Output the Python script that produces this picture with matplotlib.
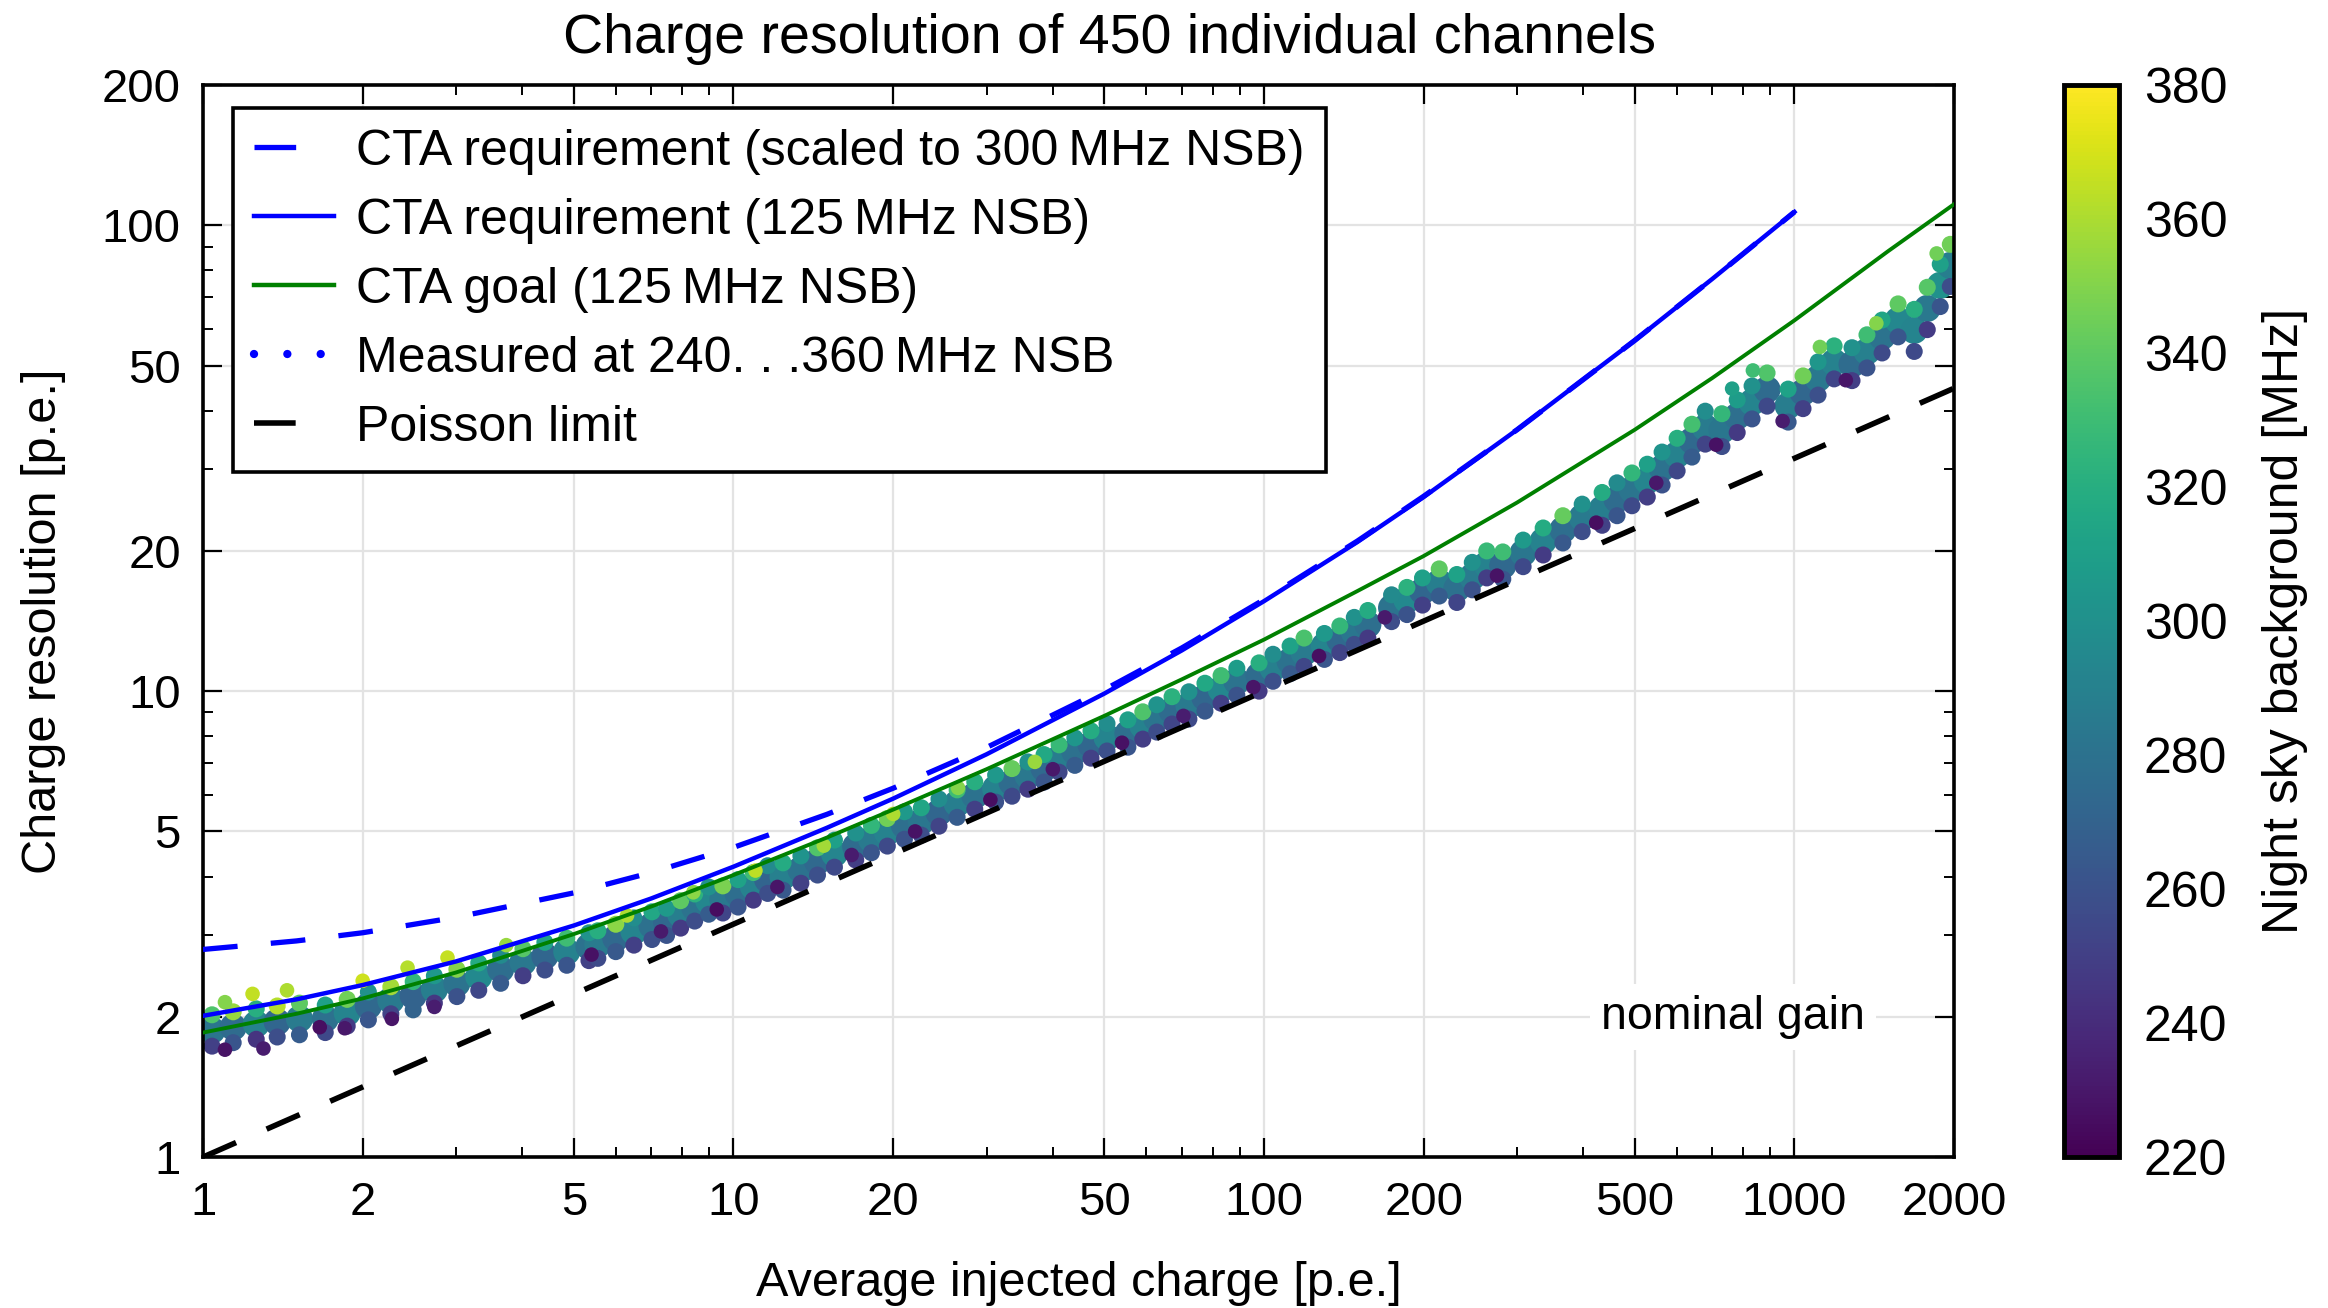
import matplotlib
matplotlib.use("Agg")
import matplotlib.pyplot as plt
from matplotlib.lines import Line2D
from matplotlib.colors import Normalize
from matplotlib.cm import ScalarMappable
from matplotlib.ticker import NullFormatter

plt.rcParams['font.family'] = ['Liberation Sans', 'DejaVu Sans']
plt.rcParams['lines.scale_dashes'] = False

# CTA curves
curve_q = [1, 1.5, 2, 3, 5, 7, 10, 15, 20, 30, 50, 70, 100, 150, 200, 300, 500, 700, 1000]
req_scaled = [2.79, 2.91, 3.03, 3.27, 3.69, 4.08, 4.62, 5.44, 6.19, 7.57, 10.07, 12.38,
              15.72, 21.0, 26.2, 36.4, 56.6, 76.7, 106.8]
req_125 = [2.01, 2.18, 2.34, 2.63, 3.14, 3.59, 4.20, 5.09, 5.88, 7.32, 9.88, 12.23,
           15.6, 20.9, 26.1, 36.4, 56.6, 76.7, 106.8]
goal_q = [1, 1.5, 2, 3, 5, 7, 10, 15, 20, 30, 50, 70, 100, 150, 200, 300, 500, 700, 1000, 1500, 2000]
goal_125 = [1.85, 2.03, 2.19, 2.49, 3.01, 3.45, 4.03, 4.85, 5.57, 6.80, 8.85, 10.6, 12.9,
            16.4, 19.5, 25.4, 36.4, 47.0, 62.5, 87.9, 111]
poisson_q = [1, 2000]
poisson_r = [1, 44.7]

# measured channels: charge positions across each cluster, with the low / middle / high edge of the band
meas_q = [1.04, 1.14, 1.26, 1.38, 1.52,
          1.70, 1.87, 2.05, 2.26, 2.49, 2.73, 3.01, 3.31, 3.64, 4.01, 4.41, 4.85, 5.34,
          5.55, 6.00, 6.49, 7.02,
          7.48, 7.95, 8.45, 8.98,
          9.55, 10.2, 10.9, 11.6,
          12.4, 13.4, 14.4, 15.5,
          17.0, 18.2, 19.5, 21.0,
          22.6, 24.4, 26.4, 28.5,
          31.2, 33.5, 35.9, 38.5,
          41.1, 44.0, 47.2, 50.6,
          55.4, 59.1, 62.8, 67.1,
          72.2, 77.4, 83.0, 88.9,
          97.9, 104, 112, 119,
          130, 139, 148, 157,
          174, 186, 199, 214,
          231, 247, 263,
          282, 308, 336, 366, 398,
          434, 463, 494, 528,
          563, 601, 641, 679,
          730, 780, 832, 888,
          973, 1038, 1108, 1188,
          1284, 1370, 1463, 1568,
          1682, 1780, 1883, 1967]
meas_mid = [1.87, 1.90, 1.93, 1.95, 1.98,
            1.98, 2.04, 2.11, 2.17, 2.22, 2.29, 2.36, 2.44, 2.53, 2.62, 2.70, 2.76, 2.83,
            2.86, 2.95, 3.05, 3.14,
            3.20, 3.32, 3.43, 3.55,
            3.57, 3.68, 3.81, 3.94,
            4.00, 4.14, 4.31, 4.48,
            4.64, 4.81, 4.98, 5.15,
            5.25, 5.49, 5.74, 5.97,
            6.18, 6.37, 6.59, 6.83,
            7.17, 7.42, 7.68, 7.96,
            8.11, 8.44, 8.74, 9.09,
            9.32, 9.69, 10.1, 10.5,
            10.8, 11.2, 11.6, 12.1,
            12.5, 12.9, 13.4, 13.9,
            15.1, 15.7, 16.4, 17.1,
            16.6, 17.6, 18.7,
            18.6, 19.8, 21.0, 22.2, 23.6,
            24.6, 25.8, 27.1, 28.3,
            30.1, 32.2, 34.5, 36.8,
            36.3, 38.9, 41.7, 44.4,
            41.0, 43.8, 46.9, 50.8,
            50.3, 53.6, 57.7, 62.5,
            59.5, 66.3, 74.3, 82.0]
meas_hi = [2.02, 2.05, 2.08, 2.11, 2.14,
           2.12, 2.18, 2.26, 2.32, 2.38, 2.45, 2.53, 2.61, 2.71, 2.80, 2.89, 2.95, 3.03,
           3.06, 3.16, 3.26, 3.36,
           3.42, 3.55, 3.67, 3.80,
           3.82, 3.94, 4.08, 4.22,
           4.28, 4.43, 4.61, 4.79,
           4.96, 5.15, 5.33, 5.51,
           5.62, 5.87, 6.14, 6.39,
           6.61, 6.82, 7.05, 7.31,
           7.67, 7.94, 8.22, 8.52,
           8.68, 9.03, 9.35, 9.73,
           9.97, 10.4, 10.8, 11.2,
           11.5, 12.0, 12.5, 13.0,
           13.3, 13.8, 14.4, 14.9,
           16.1, 16.7, 17.5, 18.3,
           17.8, 18.9, 20.0,
           19.9, 21.1, 22.4, 23.8, 25.2,
           26.7, 28.0, 29.4, 30.7,
           32.6, 34.9, 37.4, 39.9,
           39.4, 42.2, 45.2, 48.2,
           44.5, 47.5, 50.9, 55.1,
           54.6, 58.2, 62.6, 67.8,
           66.0, 73.6, 82.5, 91.0]
meas_lo = [1.73, 1.76, 1.79, 1.81, 1.83,
           1.85, 1.91, 1.97, 2.03, 2.07, 2.14, 2.21, 2.28, 2.36, 2.45, 2.52, 2.58, 2.64,
           2.67, 2.76, 2.85, 2.93,
           2.99, 3.10, 3.21, 3.32,
           3.34, 3.44, 3.56, 3.68,
           3.74, 3.87, 4.03, 4.19,
           4.34, 4.50, 4.65, 4.81,
           4.91, 5.13, 5.36, 5.58,
           5.78, 5.95, 6.16, 6.38,
           6.70, 6.93, 7.18, 7.44,
           7.58, 7.89, 8.17, 8.50,
           8.71, 9.06, 9.42, 9.80,
           10.0, 10.5, 10.9, 11.3,
           11.7, 12.1, 12.6, 13.0,
           14.1, 14.6, 15.3, 16.0,
           15.5, 16.5, 17.5,
           17.4, 18.5, 19.6, 20.8, 22.0,
           22.7, 23.8, 25.0, 26.1,
           27.7, 29.7, 31.8, 33.9,
           33.5, 35.9, 38.4, 40.9,
           37.8, 40.4, 43.2, 46.8,
           46.4, 49.4, 53.2, 57.6,
           53.6, 59.7, 66.9, 73.9]

# night sky background of those points [MHz]
nsb_lo = [250, 262, 244, 258, 266,
          255, 248, 263, 252, 270, 246, 260, 254, 265, 249, 258, 262, 251,
          256, 264, 250, 259,
          261, 248, 257, 266,
          253, 262, 247, 258,
          264, 251, 259, 255,
          249, 263, 256, 261,
          258, 252, 266, 250,
          260, 255, 248, 263,
          254, 266, 251, 259,
          262, 249, 257, 253,
          256, 264, 250, 261,
          248, 259, 265, 254,
          263, 252, 258, 247,
          257, 261, 250, 266,
          253, 260, 249,
          262, 255, 248, 264, 258,
          251, 263, 256, 249,
          260, 254, 266, 252,
          258, 247, 262, 255,
          264, 250, 259, 253,
          249, 261, 256, 263,
          255, 248, 262, 257]
nsb_mid = [282, 276, 290, 272, 286,
           279, 292, 274, 285, 270, 288, 281, 295, 277, 284, 272, 290, 280,
           286, 274, 292, 279,
           273, 288, 281, 294,
           284, 277, 290, 271,
           289, 280, 274, 293,
           276, 285, 291, 278,
           283, 272, 288, 280,
           291, 276, 284, 274,
           287, 279, 273, 292,
           278, 290, 282, 275,
           285, 273, 294, 281,
           276, 289, 280, 286,
           292, 274, 283, 278,
           281, 295, 272, 288,
           279, 286, 291,
           274, 283, 290, 277, 285,
           288, 276, 282, 293,
           280, 291, 274, 286,
           283, 278, 292, 275,
           287, 273, 284, 290,
           276, 289, 281, 294,
           292, 284, 300, 288]
nsb_hi = [335, 355, 320, 362, 340,
          310, 345, 300, 358, 325, 305, 350, 318, 296, 338, 312, 330, 302,
          320, 352, 298, 315,
          306, 340, 322, 300,
          348, 312, 330, 296,
          318, 302, 336, 310,
          300, 325, 345, 306,
          314, 298, 330, 320,
          305, 342, 300, 316,
          328, 304, 318, 298,
          310, 335, 302, 322,
          300, 316, 330, 308,
          320, 298, 312, 334,
          305, 326, 300, 318,
          296, 322, 310, 340,
          312, 300, 328,
          330, 306, 318, 342, 300,
          318, 296, 325, 310,
          302, 320, 332, 298,
          326, 308, 300, 336,
          312, 345, 304, 322,
          300, 330, 314, 340,
          320, 338, 310, 345]

# bright (high NSB) outliers on the upper edge
bright_q = [1.24, 1.44, 1.10, 2.00, 2.43, 2.89, 3.73, 6.3, 8.4, 11.0, 14.8, 20.0, 26.5, 37.0,
            763, 835, 1117, 1427, 1854]
bright_r = [2.24, 2.28, 2.15, 2.39, 2.55, 2.68, 2.85, 3.30, 3.70, 4.12, 4.66, 5.45, 6.20, 7.05,
            44.6, 48.8, 54.8, 61.6, 87.0]
bright_nsb = [365, 360, 350, 368, 362, 366, 355, 360, 352, 364, 358, 360, 350, 355,
              310, 330, 345, 350, 345]

# dark (low NSB) points at the start of each cluster
dark_q = [1.10, 1.30, 1.66, 1.85, 2.27, 2.73, 5.40, 7.30, 9.30, 12.1, 16.7, 22.0, 30.5, 40.0,
          54.0, 70.5, 95.5, 127, 169, 275, 423, 549, 712, 950, 1250]
dark_r = [1.70, 1.71, 1.90, 1.89, 1.98, 2.10, 2.72, 3.05, 3.40, 3.80, 4.45, 5.00, 5.85, 6.80,
          7.75, 8.85, 10.2, 11.9, 14.4, 17.7, 23.0, 28.0, 33.8, 38.0, 46.5]
dark_nsb = [228, 232, 226, 230, 229, 233, 227, 231, 225, 229, 232, 228, 226, 230, 227, 233,
            229, 226, 231, 228, 225, 230, 227, 232, 229]

x_ticks = [1, 2, 5, 10, 20, 50, 100, 200, 500, 1000, 2000]
y_ticks = [1, 2, 5, 10, 20, 50, 100, 200]
cb_ticks = [220, 240, 260, 280, 300, 320, 340, 360, 380]

fig = plt.figure(figsize=(23.28, 13.08), dpi=100)
ax = fig.add_axes([0.0872, 0.1154, 0.7522, 0.8196])
cax = fig.add_axes([2064 / 2328, 0.1154, 55 / 2328, 0.8196])

norm = Normalize(220, 380)
cmap = plt.get_cmap('viridis')
# big middle dots fill the cluster body, smaller edge dots give it a speckled rim
ax.scatter(meas_q, meas_mid, c=nsb_mid, cmap=cmap, norm=norm, s=380, linewidths=0, zorder=2)
ax.scatter(meas_q, meas_lo, c=nsb_lo, cmap=cmap, norm=norm, s=150, linewidths=0, zorder=2)
ax.scatter(meas_q, meas_hi, c=nsb_hi, cmap=cmap, norm=norm, s=150, linewidths=0, zorder=2)
ax.scatter(bright_q, bright_r, c=bright_nsb, cmap=cmap, norm=norm, s=110, linewidths=0, zorder=2)
ax.scatter(dark_q, dark_r, c=dark_nsb, cmap=cmap, norm=norm, s=110, linewidths=0, zorder=2)

ax.plot(poisson_q, poisson_r, color='black', lw=4.0, dashes=(26, 24), zorder=3)
ax.plot(curve_q, req_scaled, color='blue', lw=3.8, dashes=(25, 24), zorder=3)
ax.plot(curve_q, req_125, color='blue', lw=3.2, zorder=3)
ax.plot(goal_q, goal_125, color='green', lw=2.8, zorder=3)

ax.set_xscale('log')
ax.set_yscale('log')
ax.set_xlim(1, 2000)
ax.set_ylim(1, 200)
ax.set_xticks(x_ticks, [str(v) for v in x_ticks])
ax.set_yticks(y_ticks, [str(v) for v in y_ticks])
ax.set_xticks([m * 10 ** e for e in range(4) for m in (3, 4, 6, 7, 8, 9) if m * 10 ** e < 2000], minor=True)
ax.set_yticks([m * 10 ** e for e in range(3) for m in (3, 4, 6, 7, 8, 9) if m * 10 ** e < 200], minor=True)
ax.xaxis.set_minor_formatter(NullFormatter())
ax.yaxis.set_minor_formatter(NullFormatter())
ax.tick_params(which='both', direction='in', top=True, right=True, labelsize=34)
ax.tick_params(which='major', length=14, width=1.6)
ax.tick_params(which='minor', length=7, width=1.4)
ax.tick_params(axis='x', pad=17)
ax.tick_params(axis='y', pad=16)
ax.grid(True, which='major', color='#e3e3e3', lw=1.6)
ax.set_axisbelow(True)
for s in ax.spines.values():
    s.set_linewidth(2.6)

ax.set_title('Charge resolution of 450 individual channels', fontsize=40, pad=23, x=0.5175)
ax.set_xlabel('Average injected charge [p.e.]', fontsize=35, labelpad=26)
ax.set_ylabel('Charge resolution [p.e.]', fontsize=35, labelpad=26)

ax.text(766, 2.0, 'nominal gain', fontsize=33.5, ha='center', va='center', zorder=4,
        bbox=dict(fc='white', ec='none', pad=8))

handles = [
    Line2D([], [], color='blue', lw=3.8, dashes=(30, 40)),
    Line2D([], [], color='blue', lw=3.2),
    Line2D([], [], color='green', lw=3.2),
    Line2D([], [], color='blue', lw=6, dashes=(0.01, 24), dash_capstyle='round'),
    Line2D([], [], color='black', lw=4.0, dashes=(30, 40)),
]
labels = ['CTA requirement (scaled to 300\u2009MHz NSB)',
          'CTA requirement (125\u2009MHz NSB)',
          'CTA goal (125\u2009MHz NSB)',
          'Measured at 240. . .360\u2009MHz NSB',
          'Poisson limit']
leg = ax.legend(handles, labels, loc='upper left', bbox_to_anchor=(0.017, 0.979),
                borderaxespad=0, fontsize=36, handlelength=1.6, handletextpad=0.45,
                borderpad=0.42, labelspacing=0.46, fancybox=False, framealpha=1,
                edgecolor='black')
leg.get_frame().set_linewidth(2.6)
leg.set_zorder(5)

cb = fig.colorbar(ScalarMappable(norm=norm, cmap=cmap), cax=cax, ticks=cb_ticks)
cb.outline.set_linewidth(3.5)
cax.tick_params(length=0, labelsize=36, pad=18)
cax.set_ylabel('Night sky background [MHz]', fontsize=36, labelpad=25)

fig.savefig('out.png', dpi=100)
